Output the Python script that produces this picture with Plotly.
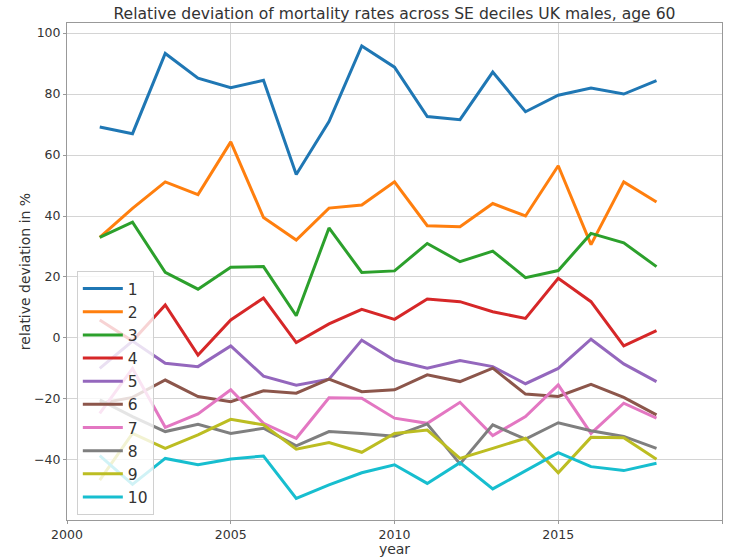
import plotly.graph_objects as go

# Years covered and relative deviation (%) of mortality per SE decile
years = list(range(2001, 2019))

d1 = [69.2, 67.0, 93.3, 85.2, 82.1, 84.5, 53.6, 71.0, 95.8, 88.8, 72.6, 71.6, 87.2, 74.2, 79.6, 82.0, 80.0, 84.4]
d2 = [33.0, 42.5, 51.2, 47.0, 64.3, 39.5, 32.1, 42.6, 43.6, 51.2, 36.8, 36.5, 44.1, 40.0, 56.5, 30.6, 51.2, 44.6]
d3 = [33.0, 38.0, 21.5, 16.0, 23.2, 23.4, 7.3, 36.1, 21.5, 22.0, 31.0, 25.0, 28.5, 19.8, 22.1, 34.3, 31.2, 23.4]
d4 = [5.9, -1.0, 10.8, -5.6, 5.9, 13.1, -1.5, 4.6, 9.4, 6.1, 12.8, 11.9, 8.6, 6.4, 19.6, 11.9, -2.6, 2.4]
d5 = [-10.0, -1.0, -8.3, -9.4, -2.6, -12.5, -15.5, -13.5, -0.7, -7.3, -9.9, -7.4, -9.4, -15.0, -10.0, -0.4, -8.5, -14.3]
d6 = [-21.5, -19.5, -13.8, -19.2, -20.9, -17.3, -18.1, -13.5, -17.6, -17.0, -12.1, -14.3, -9.9, -18.4, -19.2, -15.2, -19.5, -25.2]
d7 = [-24.7, -10.0, -29.3, -24.9, -17.0, -28.0, -32.9, -19.6, -19.8, -26.3, -28.0, -21.1, -32.0, -25.8, -15.4, -31.3, -21.4, -26.3]
d8 = [-20.3, -25.8, -30.7, -28.3, -31.3, -29.6, -35.4, -30.7, -31.3, -32.2, -28.2, -41.3, -28.5, -33.2, -27.8, -30.4, -32.3, -36.2]
d9 = [-46.6, -31.3, -36.2, -31.8, -26.7, -28.5, -36.5, -34.3, -37.5, -31.3, -30.2, -39.5, -36.2, -32.9, -44.2, -32.6, -32.7, -39.8]
d10 = [-38.6, -48.0, -39.5, -41.6, -39.7, -38.7, -52.6, -48.2, -44.2, -41.6, -47.7, -40.9, -49.5, -43.6, -37.6, -42.2, -43.5, -41.1]

deciles = [d1, d2, d3, d4, d5, d6, d7, d8, d9, d10]
labels = [str(i) for i in range(1, 11)]
colors = ["#1f77b4", "#ff7f0e", "#2ca02c", "#d62728", "#9467bd",
          "#8c564b", "#e377c2", "#7f7f7f", "#bcbd22", "#17becf"]

x_ticks = [2000, 2005, 2010, 2015, 2020]
y_ticks = [-40, -20, 0, 20, 40, 60, 80, 100]

fig = go.Figure()
for vals, name, col in zip(deciles, labels, colors):
    fig.add_trace(go.Scatter(
        x=years, y=vals, mode="lines", name=name,
        line=dict(color=col, width=3),
    ))

axis_common = dict(
    showgrid=True, gridcolor="#d4d4d4", gridwidth=1,
    showline=True, linecolor="#999999", linewidth=1, mirror=True,
    ticks="outside", ticklen=3, tickcolor="#999999",
    tickfont=dict(family="DejaVu Sans", size=12.5, color="#333333"),
    zeroline=False, automargin=False,
)

fig.update_layout(
    width=736, height=557,
    margin=dict(l=67, r=14, t=23, b=37),
    paper_bgcolor="white", plot_bgcolor="white",
    font=dict(family="DejaVu Sans", color="#333333"),
    title=dict(
        text="Relative deviation of mortality rates across SE deciles UK males, age 60",
        x=(67 + 722) / 2 / 736, xanchor="center", y=1 - 14 / 557, yanchor="middle",
        font=dict(family="DejaVu Sans", size=15.6, color="#333333"),
    ),
    xaxis=dict(
        range=[2000, 2020], tickvals=x_ticks,
        title=dict(text="year", standoff=0,
                   font=dict(family="DejaVu Sans", size=14, color="#333333")),
        **axis_common,
    ),
    yaxis=dict(
        range=[-59.7, 103.3], tickvals=y_ticks,
        title=dict(text="relative deviation in %", standoff=0,
                   font=dict(family="DejaVu Sans", size=14, color="#333333")),
        **axis_common,
    ),
    legend=dict(
        x=0.015, y=0.01, xanchor="left", yanchor="bottom",
        bgcolor="rgba(255,255,255,0.8)", bordercolor="#d0d0d0", borderwidth=1,
        font=dict(family="DejaVu Sans", size=15.5, color="#333333"),
        itemwidth=40, tracegroupgap=0,
    ),
    showlegend=True,
)

fig.write_html("out.html")
